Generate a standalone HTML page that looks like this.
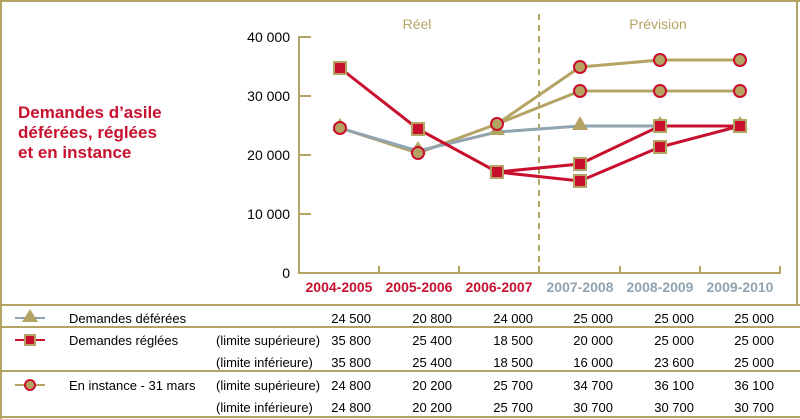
<!DOCTYPE html>
<html><head><meta charset="utf-8"><style>
html,body{margin:0;padding:0;background:#fff;}
svg{display:block;font-family:"Liberation Sans",Arial,sans-serif;}
</style></head><body>
<svg width="800" height="419" viewBox="0 0 800 419" xmlns="http://www.w3.org/2000/svg">
<g stroke="#b4a464" stroke-width="2" fill="none">
<line x1="0" y1="1" x2="800" y2="1"/>
<line x1="1" y1="0" x2="1" y2="419"/>
<line x1="797" y1="0" x2="797" y2="305"/>
<line x1="0" y1="305" x2="800" y2="305"/>
<line x1="0" y1="327" x2="800" y2="327"/>
<line x1="0" y1="371" x2="800" y2="371"/>
<line x1="0" y1="417" x2="800" y2="417"/>
</g>
<text x="18" y="118" font-size="17" font-weight="bold" fill="#c8102e">Demandes d’asile</text>
<text x="18" y="138" font-size="17" font-weight="bold" fill="#c8102e">déférées, réglées</text>
<text x="18" y="158" font-size="17" font-weight="bold" fill="#c8102e">et en instance</text>
<text x="417" y="29" font-size="14" fill="#b4a464" text-anchor="middle">Réel</text>
<text x="658" y="29" font-size="14" fill="#b4a464" text-anchor="middle">Prévision</text>
<line x1="539" y1="14" x2="539" y2="273" stroke="#b4a464" stroke-width="2" stroke-dasharray="6,5"/>
<g stroke="#b4a464" stroke-width="2" fill="none">
<line x1="299" y1="36" x2="299" y2="274"/>
<line x1="298" y1="273" x2="781" y2="273"/>
<line x1="299" y1="37" x2="311" y2="37"/><line x1="299" y1="96" x2="311" y2="96"/>
<line x1="299" y1="155" x2="311" y2="155"/><line x1="299" y1="214" x2="311" y2="214"/>
<line x1="379" y1="273" x2="379" y2="266"/><line x1="459" y1="273" x2="459" y2="266"/>
<line x1="539" y1="273" x2="539" y2="266"/><line x1="620" y1="273" x2="620" y2="266"/>
<line x1="700" y1="273" x2="700" y2="266"/><line x1="780" y1="273" x2="780" y2="266"/>
</g>
<g font-size="14" fill="#000" text-anchor="end">
<text x="290" y="42">40 000</text><text x="290" y="101">30 000</text>
<text x="290" y="160">20 000</text><text x="290" y="219">10 000</text><text x="290" y="278">0</text>
</g>
<g font-size="14" font-weight="bold" text-anchor="middle">
<text x="339" y="292" fill="#c8102e">2004-2005</text>
<text x="419" y="292" fill="#c8102e">2005-2006</text>
<text x="499" y="292" fill="#c8102e">2006-2007</text>
<text x="580" y="292" fill="#8fa4b0">2007-2008</text>
<text x="660" y="292" fill="#8fa4b0">2008-2009</text>
<text x="740" y="292" fill="#8fa4b0">2009-2010</text>
</g>
<g stroke="#b4a464" stroke-width="3" fill="none">
<polyline points="340,128 418,153 497,124 580,67 660,60 740,60"/>
<polyline points="497,124 580,91 660,91 740,91"/>
</g>
<polyline points="340,128 418,151 497,132 580,126 660,126 740,126" stroke="#8fa4b0" stroke-width="3" fill="none"/>
<g fill="#b4a464">
<polygon points="340,118 332,131 348,131"/><polygon points="418,141 410,154 426,154"/>
<polygon points="497,122 489,135 505,135"/><polygon points="580,116 572,130 588,130"/>
<polygon points="660,116 652,130 668,130"/><polygon points="740,116 732,130 748,130"/>
</g>
<g stroke="#c8102e" stroke-width="3" fill="none">
<polyline points="340,68 418,129 497,172 580,164 660,126 740,126"/>
<polyline points="497,172 580,181 660,147 740,126"/>
</g>
<g fill="#c8102e" stroke="#b4a464" stroke-width="2">
<rect x="334" y="62" width="12" height="12"/><rect x="412" y="123" width="12" height="12"/>
<rect x="491" y="166" width="12" height="12"/><rect x="574" y="158" width="12" height="12"/>
<rect x="574" y="175" width="12" height="12"/><rect x="654" y="120" width="12" height="12"/>
<rect x="654" y="141" width="12" height="12"/><rect x="734" y="120" width="12" height="12"/>
</g>
<g fill="#b4a464" stroke="#c8102e" stroke-width="2">
<circle cx="340" cy="128" r="6"/><circle cx="418" cy="153" r="6"/><circle cx="497" cy="124" r="6"/>
<circle cx="580" cy="67" r="6"/><circle cx="660" cy="60" r="6"/><circle cx="740" cy="60" r="6"/>
<circle cx="580" cy="91" r="6"/><circle cx="660" cy="91" r="6"/><circle cx="740" cy="91" r="6"/>
</g>
<line x1="15" y1="318" x2="45" y2="318" stroke="#8fa4b0" stroke-width="2"/>
<polygon points="30,309 22,322 38,322" fill="#b4a464"/>
<line x1="15" y1="340" x2="45" y2="340" stroke="#c8102e" stroke-width="2"/>
<rect x="25" y="335" width="10" height="10" fill="#c8102e" stroke="#b4a464" stroke-width="2"/>
<line x1="15" y1="385" x2="45" y2="385" stroke="#b4a464" stroke-width="2"/>
<circle cx="30" cy="385" r="5" fill="#b4a464" stroke="#c8102e" stroke-width="2"/>
<g font-size="13" fill="#000">
<text x="69" y="323">Demandes déférées</text>
<text x="69" y="345">Demandes réglées</text>
<text x="69" y="390">En instance - 31 mars</text>
<text x="216" y="345">(limite supérieure)</text>
<text x="216" y="367">(limite inférieure)</text>
<text x="216" y="390">(limite supérieure)</text>
<text x="216" y="412">(limite inférieure)</text>
</g>
<g font-size="13" fill="#000" text-anchor="end">
<text x="371" y="323">24 500</text><text x="452" y="323">20 800</text><text x="533" y="323">24 000</text><text x="613" y="323">25 000</text><text x="694" y="323">25 000</text><text x="774" y="323">25 000</text>
<text x="371" y="345">35 800</text><text x="452" y="345">25 400</text><text x="533" y="345">18 500</text><text x="613" y="345">20 000</text><text x="694" y="345">25 000</text><text x="774" y="345">25 000</text>
<text x="371" y="367">35 800</text><text x="452" y="367">25 400</text><text x="533" y="367">18 500</text><text x="613" y="367">16 000</text><text x="694" y="367">23 600</text><text x="774" y="367">25 000</text>
<text x="371" y="390">24 800</text><text x="452" y="390">20 200</text><text x="533" y="390">25 700</text><text x="613" y="390">34 700</text><text x="694" y="390">36 100</text><text x="774" y="390">36 100</text>
<text x="371" y="412">24 800</text><text x="452" y="412">20 200</text><text x="533" y="412">25 700</text><text x="613" y="412">30 700</text><text x="694" y="412">30 700</text><text x="774" y="412">30 700</text>
</g>
</svg>
</body></html>
